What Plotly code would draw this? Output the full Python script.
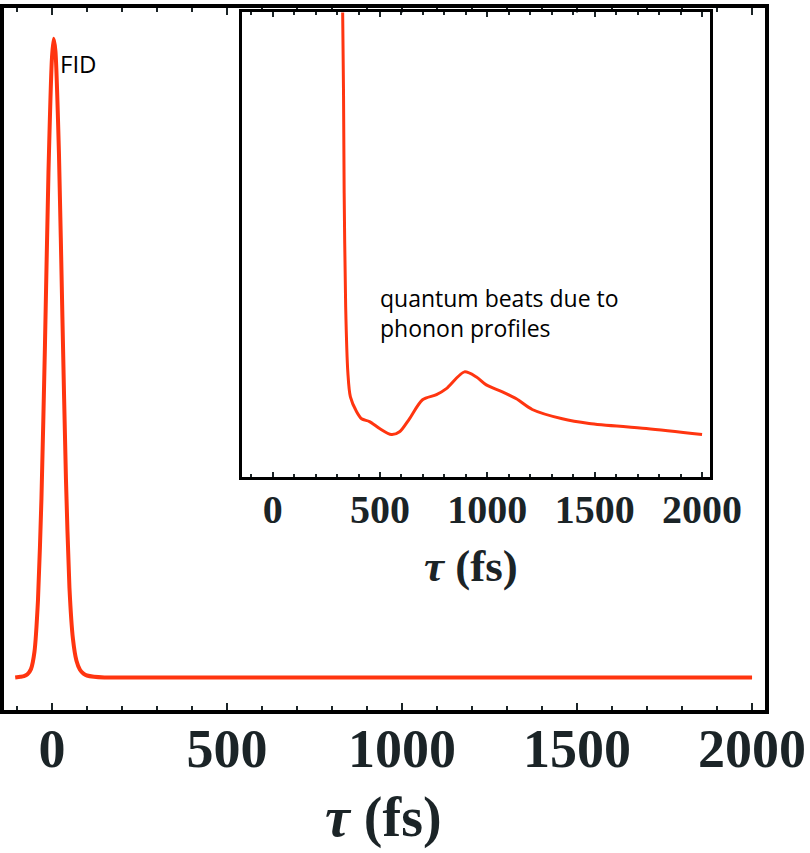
import plotly.graph_objects as go

# ---- data ----
tau_main = [-105, -90, -80, -70, -60, -50, -40, -30, -20, -10, 0, 5, 10, 20, 30, 40, 50, 60, 70, 80, 90,
            100, 120, 150, 200, 300, 500, 800, 1000, 1200, 1500, 1800, 2000]
sig_main = [0.000, 0.001, 0.002, 0.005, 0.013, 0.040, 0.120, 0.280, 0.520, 0.790, 0.970, 1.000, 0.980,
            0.820, 0.560, 0.310, 0.140, 0.060, 0.026, 0.012, 0.006,
            0.003, 0.001, 0.000, 0.000, 0.000, 0.000, 0.000, 0.000, 0.000, 0.000, 0.000, 0.000]

tau_inset = [290, 326, 333, 340, 350, 362, 391, 414, 451, 498, 553, 591, 637, 698, 763, 809, 893,
             949, 995, 1070, 1135, 1209, 1349, 1474, 1740, 2000]
sig_inset = [16.0, 10.0, 6.11, 3.67, 2.26, 1.72, 1.40, 1.25, 1.19, 1.04, 0.91, 0.97, 1.25, 1.66, 1.77,
             1.90, 2.26, 2.15, 1.98, 1.83, 1.68, 1.45, 1.25, 1.15, 1.04, 0.91]

x_ticks = [0, 500, 1000, 1500, 2000]
x_ticklabels = ["0", "500", "1000", "1500", "2000"]
xtitle = "<b><i>τ</i> (fs)</b>"
label_fid = "FID"
label_beats = "quantum beats due to<br>phonon profiles"

RED = "#ff3510"
INK = "#1b2427"

W, H = 810, 853
L, R, T, B = 4, 766, 4, 710  # main plot area in pixels


def px_x(px):
    return (px - L) / (R - L)


def px_y(py):
    return (B - py) / (B - T)


fig = go.Figure()
fig.add_trace(go.Scatter(x=tau_main, y=sig_main, mode="lines", line=dict(color=RED, width=4, shape="spline", smoothing=0.6),
                         xaxis="x", yaxis="y", showlegend=False))
fig.add_trace(go.Scatter(x=tau_inset, y=sig_inset, mode="lines", line=dict(color=RED, width=3, shape="spline", smoothing=0.8),
                         xaxis="x2", yaxis="y2", showlegend=False))

tickfont_main = dict(family="Liberation Serif", size=54, color=INK, weight="bold")
tickfont_in = dict(family="Liberation Serif", size=40, color=INK, weight="bold")

fig.update_layout(
    width=W, height=H,
    margin=dict(l=L, r=W - R, t=T, b=H - B, pad=0),
    paper_bgcolor="white", plot_bgcolor="white",
    xaxis=dict(domain=[0, 1], range=[-137, 2037], tickvals=x_ticks, ticktext=x_ticklabels,
               ticks="inside", ticklen=7, tickwidth=2, tickcolor=INK,
               minor=dict(dtick=100, ticks="inside", ticklen=4, tickwidth=2, tickcolor=INK),
               showline=True, linewidth=4, linecolor="black", mirror="ticks",
               showgrid=False, zeroline=False, tickfont=tickfont_main, ticklabelstandoff=-12),
    yaxis=dict(domain=[0, 1], range=[-0.051, 1.048], showticklabels=False, ticks="",
               showline=True, linewidth=4, linecolor="black", mirror=True,
               showgrid=False, zeroline=False),
    xaxis2=dict(domain=[px_x(242.5), px_x(710.5)], anchor="y2", range=[-142, 2035],
                tickvals=x_ticks, ticktext=x_ticklabels,
                ticks="inside", ticklen=5, tickwidth=2, tickcolor=INK,
                minor=dict(dtick=100, ticks="inside", ticklen=3, tickwidth=2, tickcolor=INK),
                showline=True, linewidth=3, linecolor="black", mirror="ticks",
                showgrid=False, zeroline=False, tickfont=tickfont_in, ticklabelstandoff=-5),
    yaxis2=dict(domain=[px_y(475.5), px_y(8.5)], anchor="x2", range=[0, 10],
                showticklabels=False, ticks="",
                showline=True, linewidth=3, linecolor="black", mirror=True,
                showgrid=False, zeroline=False),
    annotations=[
        dict(text=xtitle, xref="paper", yref="paper", x=px_x(384), y=px_y(818), xanchor="center", yanchor="middle",
             showarrow=False, font=dict(family="Liberation Serif", size=56, color=INK)),
        dict(text=xtitle, xref="paper", yref="paper", x=px_x(472), y=px_y(565), xanchor="center", yanchor="middle",
             showarrow=False, font=dict(family="Liberation Serif", size=45, color=INK)),
        dict(text=label_fid, xref="paper", yref="paper", x=px_x(58), y=px_y(60), xanchor="left", yanchor="middle",
             showarrow=False, font=dict(family="Open Sans", size=24, color="black")),
        dict(text=label_beats, xref="paper", yref="paper", x=px_x(378), y=px_y(311), xanchor="left", yanchor="middle",
             align="left", showarrow=False, font=dict(family="Open Sans", size=23, color="black")),
    ],
)

fig.write_html("out.html")
